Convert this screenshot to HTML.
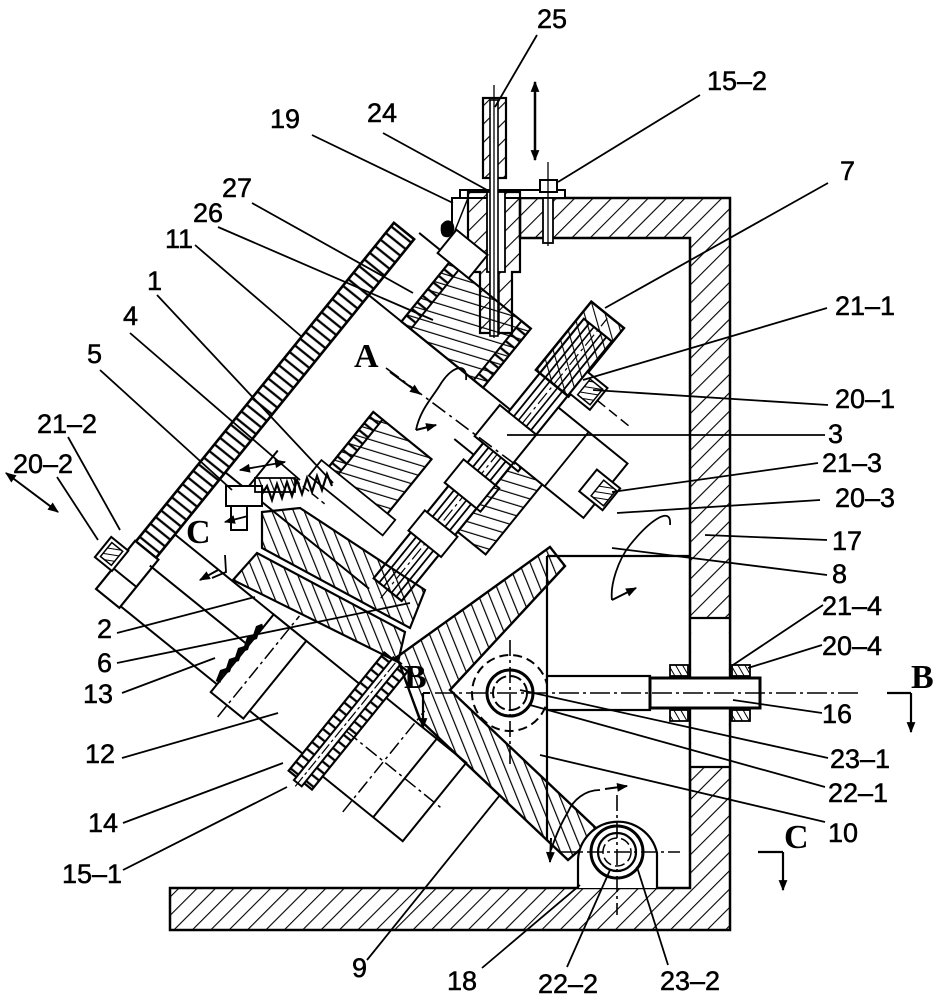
<!DOCTYPE html>
<html><head><meta charset="utf-8"><style>
html,body{margin:0;padding:0;background:#fff;}
svg{display:block;}
</style></head><body>
<svg width="939" height="1000" viewBox="0 0 939 1000" xmlns="http://www.w3.org/2000/svg">
<defs>
 <pattern id="hf" patternUnits="userSpaceOnUse" width="13" height="13" patternTransform="rotate(45)"><line x1="0" y1="0" x2="0" y2="13" stroke="#000" stroke-width="2.2"/></pattern>
 <pattern id="h9" patternUnits="userSpaceOnUse" width="10" height="10" patternTransform="rotate(-22)"><line x1="0" y1="0" x2="0" y2="10" stroke="#000" stroke-width="2.4"/></pattern>
 <pattern id="hd" patternUnits="userSpaceOnUse" width="6" height="6" patternTransform="rotate(-30)"><line x1="0" y1="0" x2="0" y2="6" stroke="#000" stroke-width="2"/></pattern>
 <pattern id="rung" patternUnits="userSpaceOnUse" width="8.5" height="40"><line x1="4" y1="0" x2="4" y2="40" stroke="#000" stroke-width="2.3"/></pattern>
 <pattern id="hl" patternUnits="userSpaceOnUse" width="10" height="10" patternTransform="rotate(35)"><line x1="0" y1="0" x2="0" y2="10" stroke="#000" stroke-width="2.2"/></pattern>
 <marker id="ah" viewBox="0 0 10 10" refX="9" refY="5" markerUnits="userSpaceOnUse" markerWidth="13" markerHeight="11" orient="auto-start-reverse"><path d="M0,1 L10,5 L0,9 Z" fill="#000"/></marker>
</defs>
<rect width="939" height="1000" fill="#fff"/>

<!-- Frame 17 -->
<path d="M520,198 H730 V930 H170 V888 H690 V238 H520 Z" fill="url(#hf)" stroke="#000" stroke-width="2.5"/>
<rect x="691.2" y="618" width="37.6" height="149" fill="#fff"/>
<g stroke="#000" stroke-width="2.2" fill="none">
 <line x1="690" y1="618" x2="730" y2="618"/><line x1="690" y1="767" x2="730" y2="767"/>
 <line x1="690" y1="600" x2="690" y2="790"/><line x1="730" y1="600" x2="730" y2="790"/>
</g>

<!-- Bushing 19 + sleeve -->
<rect x="460" y="190" width="105" height="8" fill="#fff" stroke="#000" stroke-width="2"/>
<rect x="452" y="198" width="16" height="40" fill="#fff" stroke="#000" stroke-width="2"/>
<line x1="452" y1="238" x2="468" y2="198" stroke="#000" stroke-width="1.5"/>
<path d="M468,192 H520 V272 H512 V333 H480 V272 H468 Z" fill="url(#hf)" stroke="#000" stroke-width="2.2"/>
<rect x="487" y="192" width="18" height="80" fill="#fff" stroke="#000" stroke-width="1.8"/>
<rect x="490" y="272" width="9" height="62" fill="#fff" stroke="#000" stroke-width="1.5"/>
<!-- screw 15-2 -->
<rect x="540" y="180" width="17" height="12" fill="#fff" stroke="#000" stroke-width="2"/>
<rect x="543" y="198" width="10" height="45" fill="#fff" stroke="#000" stroke-width="1.8"/>
<line x1="548" y1="162" x2="548" y2="246" stroke="#000" stroke-width="1.3"/>
<!-- rod 25 -->
<rect x="483" y="98" width="23" height="80" fill="url(#hf)" stroke="#000" stroke-width="2.2"/>
<rect x="490" y="100" width="8" height="236" fill="#fff" stroke="#000" stroke-width="1.6"/>
<line x1="494" y1="85" x2="494" y2="338" stroke="#000" stroke-width="1.3"/>
<!-- double arrow -->
<line x1="535" y1="82" x2="535" y2="160" stroke="#000" stroke-width="2.5" marker-start="url(#ah)" marker-end="url(#ah)"/>
<path d="M441,225 q6,-8 12,-2 q4,8 -4,14 q-10,2 -8,-12z" fill="#000"/>

<!-- Rotated assembly -->
<g transform="translate(404,231) rotate(-51)">
 <!-- board 11 -->
 <rect x="-410" y="-13" width="410" height="26" fill="url(#rung)" stroke="#000" stroke-width="2.6"/>
 <rect x="-472" y="-14" width="62" height="30" fill="#fff" stroke="#000" stroke-width="2.2"/>
 <line x1="-445" y1="-14" x2="-445" y2="16" stroke="#000" stroke-width="2"/>
 <!-- nut 20-2/21-2 -->
 <rect x="-448" y="-35" width="26" height="22" fill="#fff" stroke="#000" stroke-width="2"/>
 <rect x="-444" y="-31" width="18" height="14" fill="url(#hd)" stroke="#000" stroke-width="1.5"/>
 <!-- housing lines -->
 <g stroke="#000" stroke-width="2" fill="none">
  <line x1="-470" y1="16" x2="-470" y2="250"/>
  <line x1="-420" y1="13" x2="-420" y2="140"/>
  <line x1="-380" y1="13" x2="-380" y2="250"/>
  <line x1="-300" y1="13" x2="-300" y2="198"/>
  <line x1="-72" y1="13" x2="-72" y2="198"/>
  <line x1="8" y1="13" x2="8" y2="55"/>
  <line x1="-300" y1="40" x2="-250" y2="40"/>
  <line x1="-130" y1="170" x2="-130" y2="198"/>
 </g>
 <!-- block 12 -->
 <rect x="-480" y="140" width="100" height="42" fill="#fff" stroke="#000" stroke-width="2"/>
 <line x1="-495" y1="161" x2="-365" y2="161" stroke="#000" stroke-width="1.5" stroke-dasharray="14,4,3,4"/>
 <!-- rod 14 / 15-1 -->
 <rect x="-492" y="250" width="152" height="30" fill="url(#rung)" stroke="#000" stroke-width="2.2"/>
 <rect x="-496" y="260" width="158" height="10" fill="#fff" stroke="#000" stroke-width="2"/>
 <line x1="-500" y1="265" x2="-335" y2="265" stroke="#000" stroke-width="1.2" stroke-dasharray="12,3,3,3"/>
 <!-- lower block -->
 <rect x="-475" y="280" width="101" height="103" fill="#fff" stroke="#000" stroke-width="2"/>
 <line x1="-475" y1="345" x2="-374" y2="345" stroke="#000" stroke-width="2"/>
 <line x1="-490" y1="318" x2="-360" y2="318" stroke="#000" stroke-width="1.5" stroke-dasharray="14,4,3,4"/>
 <line x1="-425" y1="270" x2="-425" y2="395" stroke="#000" stroke-width="1.5" stroke-dasharray="14,4,3,4"/>
 <!-- middle block 4 -->
 <rect x="-240" y="90" width="80" height="75" fill="url(#h9)" stroke="#000" stroke-width="2.2"/>
 <rect x="-240" y="90" width="80" height="12" fill="url(#rung)" stroke="#000" stroke-width="2"/>
 <rect x="-250" y="80" width="20" height="95" fill="#fff" stroke="#000" stroke-width="1.8"/>
 <line x1="-262" y1="70" x2="-262" y2="110" stroke="#000" stroke-width="1.5" stroke-dasharray="8,4"/>
 <!-- upper nut block 26/27 -->
 <rect x="-72" y="55" width="76" height="105" fill="url(#h9)" stroke="#000" stroke-width="2.2"/>
 <rect x="-72" y="55" width="76" height="12" fill="url(#rung)" stroke="#000" stroke-width="2"/>
 <rect x="-72" y="148" width="76" height="12" fill="url(#rung)" stroke="#000" stroke-width="2"/>
 <rect x="4" y="40" width="30" height="40" fill="#fff" stroke="#000" stroke-width="2"/>
 <!-- rod 3 -->
 <rect x="-289" y="195" width="334" height="36" fill="#fff" stroke="#000" stroke-width="2.2"/>
 <line x1="-289" y1="202" x2="45" y2="202" stroke="#000" stroke-width="1.8"/>
 <line x1="-289" y1="208" x2="45" y2="208" stroke="#000" stroke-width="1.6"/>
 <line x1="-289" y1="218" x2="45" y2="218" stroke="#000" stroke-width="1.6"/>
 <line x1="-289" y1="224" x2="45" y2="224" stroke="#000" stroke-width="1.8"/>
 <line x1="-300" y1="213" x2="60" y2="213" stroke="#000" stroke-width="1.2" stroke-dasharray="14,4,3,4"/>
 <!-- collars -->
 <g fill="#fff" stroke="#000" stroke-width="2">
  <rect x="-115" y="184" width="40" height="56"/>
  <rect x="-170" y="190" width="30" height="46"/>
  <rect x="-230" y="192" width="26" height="42"/>
 </g>
 <rect x="-200" y="231" width="90" height="36" fill="url(#h9)" stroke="#000" stroke-width="2"/>
 <!-- plate 7 -->
 <rect x="-25" y="190" width="88" height="42" fill="url(#hl)" stroke="#000" stroke-width="2.5"/>
 <!-- block right of rod, clamps -->
 <rect x="-110" y="231" width="70" height="89" fill="#fff" stroke="#000" stroke-width="2"/>
 <line x1="-110" y1="270" x2="-40" y2="270" stroke="#000" stroke-width="1.8"/>
 <rect x="-92" y="300" width="28" height="30" fill="#fff" stroke="#000" stroke-width="2"/>
 <rect x="-88" y="312" width="20" height="16" fill="url(#hd)" stroke="#000" stroke-width="1.5"/>
 <rect x="-22" y="231" width="28" height="26" fill="#fff" stroke="#000" stroke-width="2"/>
 <rect x="-18" y="238" width="20" height="16" fill="url(#hd)" stroke="#000" stroke-width="1.5"/>
 <line x1="-10" y1="257" x2="-10" y2="300" stroke="#000" stroke-width="1.5" stroke-dasharray="10,5"/>
</g>

<!-- hatched plates 4-body, 2 and 9 -->
<path d="M262,512 L300,508 L425,590 L410,628 L262,548 Z" fill="url(#h9)" stroke="#000" stroke-width="2.2"/>
<path d="M233,580 L257,553 L405,632 L398,662 Z" fill="url(#h9)" stroke="#000" stroke-width="2.2"/>
<path d="M550,547 L397,657 L420,720 L568,860 L600,832 L450,690 L565,566 Z" fill="url(#h9)" stroke="#000" stroke-width="2.4"/>

<!-- spring 5 and C piece -->
<rect x="226" y="486" width="36" height="20" fill="#fff" stroke="#000" stroke-width="2"/>
<rect x="231" y="506" width="16" height="24" fill="#fff" stroke="#000" stroke-width="2"/>
<polyline points="262,494 267,486 272,500 277,484 282,498 287,482 292,496 297,480 302,494 307,478 312,492 317,476 322,490 327,474 332,486" fill="none" stroke="#000" stroke-width="2.2"/>
<rect x="255" y="478" width="40" height="14" fill="url(#h9)" stroke="#000" stroke-width="1.8"/>
<!-- spring 13 -->
<polyline points="218,682 222,672 228,670 231,661 237,659 240,650 246,648 249,639 255,637 258,628 263,626" fill="none" stroke="#000" stroke-width="5"/>

<!-- box 10 -->
<g stroke="#000" stroke-width="2.2" fill="none">
 <line x1="547" y1="556" x2="547" y2="840"/>
 <line x1="547" y1="556" x2="690" y2="556"/>
</g>

<!-- pivot 22-1/23-1 -->
<circle cx="510" cy="693" r="38" fill="#fff" stroke="#000" stroke-width="2" stroke-dasharray="9,5"/>
<circle cx="510" cy="693" r="23" fill="#fff" stroke="#000" stroke-width="3"/>
<circle cx="510" cy="693" r="17" fill="none" stroke="#000" stroke-width="2" stroke-dasharray="12,4"/>
<line x1="510" y1="640" x2="510" y2="765" stroke="#000" stroke-width="1.6" stroke-dasharray="16,4,3,4"/>
<!-- arm 10 and rod 16 -->
<rect x="547" y="676" width="103" height="34" fill="#fff" stroke="#000" stroke-width="2.2"/>
<rect x="650" y="678" width="110" height="30" fill="#fff" stroke="#000" stroke-width="3"/>
<g fill="url(#hd)" stroke="#000" stroke-width="1.8">
 <rect x="670" y="665" width="18" height="11"/><rect x="670" y="710" width="18" height="11"/>
 <rect x="732" y="665" width="18" height="11"/><rect x="732" y="710" width="18" height="11"/>
</g>
<line x1="435" y1="693" x2="858" y2="693" stroke="#000" stroke-width="1.6" stroke-dasharray="20,4,3,4"/>

<!-- pivot 22-2/23-2 bracket 18 -->
<path d="M578,888 V860 A40,40 0 0 1 657,853 V888" fill="#fff" stroke="#000" stroke-width="2.2"/>
<circle cx="617" cy="852" r="26" fill="#fff" stroke="#000" stroke-width="3"/>
<circle cx="617" cy="852" r="19" fill="none" stroke="#000" stroke-width="2.2"/>
<circle cx="617" cy="852" r="14" fill="none" stroke="#000" stroke-width="1.5" stroke-dasharray="10,4"/>
<line x1="560" y1="852" x2="680" y2="852" stroke="#000" stroke-width="1.6" stroke-dasharray="16,4,3,4"/>
<line x1="617" y1="795" x2="617" y2="915" stroke="#000" stroke-width="1.6" stroke-dasharray="16,4,3,4"/>

<!-- section A line and rotation arrows -->
<line x1="386" y1="368" x2="520" y2="468" stroke="#000" stroke-width="1.6" stroke-dasharray="16,5,3,5"/>
<line x1="390" y1="372" x2="420" y2="394" stroke="#000" stroke-width="2" marker-end="url(#ah)"/>
<path d="M466,380 C468,362 452,365 440,385 C432,398 420,410 416,430" fill="none" stroke="#000" stroke-width="1.8"/>
<line x1="416" y1="430" x2="436" y2="425" stroke="#000" stroke-width="2" marker-end="url(#ah)"/>
<path d="M670,525 C672,505 650,520 630,545 C618,560 610,585 612,600" fill="none" stroke="#000" stroke-width="1.8"/>
<line x1="612" y1="600" x2="636" y2="588" stroke="#000" stroke-width="2" marker-end="url(#ah)"/>
<path d="M600,790 C585,790 573,800 568,812 C560,825 555,838 551,850" fill="none" stroke="#000" stroke-width="1.8"/>
<line x1="605" y1="789" x2="627" y2="786" stroke="#000" stroke-width="2" marker-end="url(#ah)"/>
<line x1="551" y1="838" x2="550" y2="862" stroke="#000" stroke-width="2" marker-end="url(#ah)"/>
<!-- arrows near C left -->
<line x1="240" y1="470" x2="285" y2="462" stroke="#000" stroke-width="1.8" marker-start="url(#ah)" marker-end="url(#ah)"/>
<path d="M225,522 L248,516" stroke="#000" stroke-width="1.8" marker-start="url(#ah)"/>
<path d="M225,555 L226,572 L212,578" fill="none" stroke="#000" stroke-width="1.8"/>
<line x1="218" y1="570" x2="200" y2="580" stroke="#000" stroke-width="2" marker-end="url(#ah)"/>
<!-- arrow at 20-2 -->
<line x1="6" y1="473" x2="58" y2="512" stroke="#000" stroke-width="2" marker-start="url(#ah)" marker-end="url(#ah)"/>

<!-- section markers -->
<line x1="430" y1="693" x2="423" y2="693" stroke="#000" stroke-width="2"/>
<line x1="423" y1="693" x2="423" y2="728" stroke="#000" stroke-width="2.2" marker-end="url(#ah)"/>
<line x1="887" y1="693" x2="911" y2="693" stroke="#000" stroke-width="2.2"/>
<line x1="911" y1="693" x2="911" y2="732" stroke="#000" stroke-width="2.2" marker-end="url(#ah)"/>
<line x1="758" y1="852" x2="783" y2="852" stroke="#000" stroke-width="2.2"/>
<line x1="783" y1="852" x2="783" y2="890" stroke="#000" stroke-width="2.2" marker-end="url(#ah)"/>

<!-- leader lines -->
<g stroke="#000" stroke-width="1.8" fill="none">
 <line x1="537" y1="35" x2="495" y2="107"/>
 <line x1="700" y1="95" x2="558" y2="182"/>
 <line x1="312" y1="135" x2="453" y2="203"/>
 <line x1="383" y1="133" x2="487" y2="190"/>
 <line x1="252" y1="203" x2="413" y2="293"/>
 <line x1="218" y1="227" x2="433" y2="320"/>
 <line x1="195" y1="245" x2="302" y2="337"/>
 <line x1="157" y1="295" x2="333" y2="483"/>
 <line x1="130" y1="333" x2="300" y2="480"/>
 <line x1="100" y1="370" x2="232" y2="490"/>
 <line x1="68" y1="437" x2="120" y2="530"/>
 <line x1="57" y1="477" x2="98" y2="540"/>
 <line x1="828" y1="183" x2="605" y2="308"/>
 <line x1="827" y1="308" x2="583" y2="380"/>
 <line x1="828" y1="405" x2="593" y2="390"/>
 <line x1="825" y1="435" x2="507" y2="435"/>
 <line x1="818" y1="463" x2="612" y2="492"/>
 <line x1="820" y1="500" x2="617" y2="513"/>
 <line x1="827" y1="540" x2="705" y2="535"/>
 <line x1="827" y1="575" x2="612" y2="548"/>
 <line x1="823" y1="605" x2="733" y2="665"/>
 <line x1="822" y1="645" x2="748" y2="668"/>
 <line x1="822" y1="713" x2="733" y2="700"/>
 <line x1="828" y1="758" x2="520" y2="690"/>
 <line x1="825" y1="787" x2="530" y2="705"/>
 <line x1="825" y1="822" x2="540" y2="755"/>
 <line x1="482" y1="968" x2="580" y2="885"/>
 <line x1="567" y1="967" x2="610" y2="870"/>
 <line x1="668" y1="965" x2="637" y2="867"/>
 <line x1="367" y1="960" x2="500" y2="795"/>
 <line x1="123" y1="870" x2="287" y2="787"/>
 <line x1="123" y1="823" x2="283" y2="763"/>
 <line x1="122" y1="758" x2="278" y2="713"/>
 <line x1="122" y1="693" x2="215" y2="658"/>
 <line x1="117" y1="663" x2="410" y2="603"/>
 <line x1="117" y1="633" x2="255" y2="597"/>
</g>

<!-- labels -->
<g font-family="'Liberation Sans', sans-serif" font-size="27" fill="#000" stroke="#000" stroke-width="0.5">
 <text x="537" y="28">25</text>
 <text x="707" y="90">15–2</text>
 <text x="270" y="128">19</text>
 <text x="367" y="122">24</text>
 <text x="222" y="197">27</text>
 <text x="193" y="222">26</text>
 <text x="165" y="248">11</text>
 <text x="147" y="290">1</text>
 <text x="123" y="325">4</text>
 <text x="87" y="363">5</text>
 <text x="37" y="433">21–2</text>
 <text x="13" y="473">20–2</text>
 <text x="840" y="180">7</text>
 <text x="835" y="315">21–1</text>
 <text x="835" y="408">20–1</text>
 <text x="828" y="443">3</text>
 <text x="822" y="472">21–3</text>
 <text x="835" y="507">20–3</text>
 <text x="832" y="550">17</text>
 <text x="832" y="583">8</text>
 <text x="822" y="615">21–4</text>
 <text x="822" y="655">20–4</text>
 <text x="822" y="723">16</text>
 <text x="830" y="768">23–1</text>
 <text x="828" y="802">22–1</text>
 <text x="828" y="842">10</text>
 <text x="447" y="990">18</text>
 <text x="538" y="993">22–2</text>
 <text x="660" y="990">23–2</text>
 <text x="352" y="977">9</text>
 <text x="62" y="883">15–1</text>
 <text x="88" y="832">14</text>
 <text x="85" y="763">12</text>
 <text x="83" y="703">13</text>
 <text x="97" y="672">6</text>
 <text x="97" y="638">2</text>
</g>
<g font-family="'Liberation Serif', serif" font-size="34" font-weight="bold" fill="#000">
 <text x="354" y="367">A</text>
 <text x="186" y="543">C</text>
 <text x="404" y="688">B</text>
 <text x="911" y="688">B</text>
 <text x="784" y="848">C</text>
</g>
</svg>
</body></html>
